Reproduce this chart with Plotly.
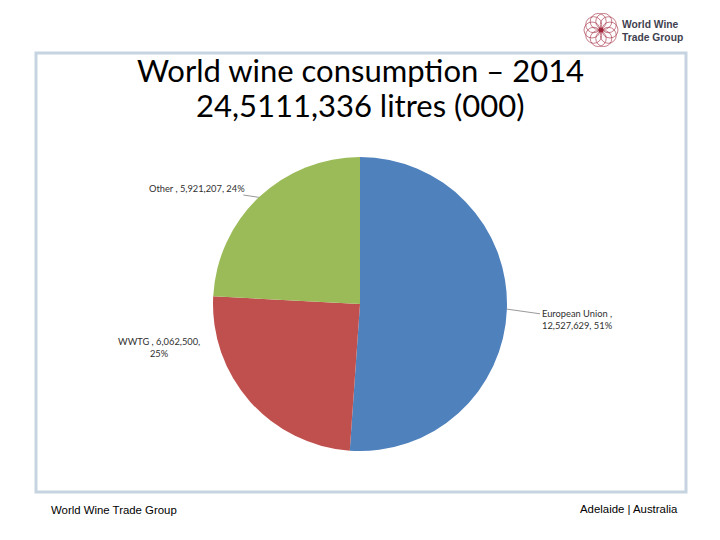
import math

import plotly.graph_objects as go

# data
regions = ["European Union", "WWTG", "Other"]
volumes = [12527629, 6062500, 5921207]
colors = ["#4f81bd", "#c0504d", "#9bbb59"]
title_lines = ["World wine consumption \u2013 2014", "24,5111,336 litres (000)"]

# page body has an 8px margin, so the figure is drawn 8px in from the window corner
PAD = 8
W, H = 720 - PAD, 540 - PAD


def px_x(x):
    return (x - PAD) / W


def px_y(y):
    return 1 - (y - PAD) / H


# pie geometry (window pixels)
cx, cy, r = 360, 304, 147
dom_x = [px_x(cx - r), px_x(cx + r)]
dom_y = [px_y(cy + r), px_y(cy - r)]

total = sum(volumes)
pcts = [round(v / total * 100) for v in volumes]

fig = go.Figure(
    go.Pie(
        labels=regions,
        values=volumes,
        sort=False,
        direction="clockwise",
        rotation=0,
        marker=dict(colors=colors, line=dict(width=0)),
        textinfo="none",
        hoverinfo="label+value+percent",
        domain=dict(x=dom_x, y=dom_y),
        showlegend=False,
    )
)


def edge_point(idx):
    """Window pixel coords of the outer edge at the middle of slice idx."""
    start = sum(volumes[:idx]) / total
    mid = (start + volumes[idx] / total / 2) * 2 * math.pi
    return cx + r * math.sin(mid), cy - r * math.cos(mid)


label_font = dict(family="Lato, Open Sans, sans-serif", size=9.3, color="#303030")
annotations = []

# European Union label, right side with leader line
epx, epy = edge_point(0)
annotations.append(dict(
    x=px_x(epx), y=px_y(epy), xref="paper", yref="paper",
    text=f"{regions[0]} ,<br>{volumes[0]:,}, {pcts[0]}%",
    align="left", font=label_font,
    showarrow=True, arrowhead=0, arrowwidth=0.8, arrowcolor="#7f7f7f",
    ax=577 - epx, ay=319 - epy,
))
# WWTG label, no leader line
annotations.append(dict(
    x=px_x(159), y=px_y(347), xref="paper", yref="paper",
    text=f"{regions[1]} , {volumes[1]:,},<br>{pcts[1]}%",
    align="center", xanchor="center", yanchor="middle",
    font=label_font, showarrow=False,
))
# Other label with leader line
opx, opy = edge_point(2)
annotations.append(dict(
    x=px_x(opx), y=px_y(opy), xref="paper", yref="paper",
    text=f"{regions[2]} , {volumes[2]:,}, {pcts[2]}%",
    font=label_font,
    showarrow=True, arrowhead=0, arrowwidth=0.8, arrowcolor="#7f7f7f",
    ax=197 - opx, ay=188 - opy,
))

# slide title
for text, ty in zip(title_lines, [70, 105]):
    annotations.append(dict(
        x=px_x(360), y=px_y(ty), xref="paper", yref="paper",
        text=text, showarrow=False, xanchor="center", yanchor="middle",
        font=dict(family="Lato, Open Sans, sans-serif", size=31, color="#000000"),
    ))

# footer
footer_font = dict(family="Liberation Sans, Arial, sans-serif", size=11.4, color="#000000")
annotations.append(dict(
    x=px_x(49), y=px_y(510), xref="paper", yref="paper", text="World Wine Trade Group",
    showarrow=False, xanchor="left", yanchor="middle", font=footer_font,
))
annotations.append(dict(
    x=px_x(680), y=px_y(509), xref="paper", yref="paper", text="Adelaide | Australia",
    showarrow=False, xanchor="right", yanchor="middle", font=footer_font,
))

# logo text
logo_font = dict(family="Liberation Sans, Arial, sans-serif", size=10.3, color="#3f3f4f")
for text, ty in zip(["<b>World Wine</b>", "<b>Trade Group</b>"], [25, 37]):
    annotations.append(dict(
        x=px_x(620), y=px_y(ty), xref="paper", yref="paper", text=text,
        showarrow=False, xanchor="left", yanchor="middle", font=logo_font,
    ))

shapes = []
# slide frame
shapes.append(dict(
    type="rect", xref="paper", yref="paper",
    x0=px_x(36), x1=px_x(686), y0=px_y(492), y1=px_y(53),
    line=dict(color="#c6d3e0", width=3), layer="below",
))
# logo rosette
lx, ly = 601, 30
for k in range(10):
    a = k * 2 * math.pi / 10
    px = lx + 9 * math.cos(a)
    py = ly + 9 * math.sin(a)
    shapes.append(dict(
        type="circle", xref="paper", yref="paper",
        x0=px_x(px - 8), x1=px_x(px + 8), y0=px_y(py + 8), y1=px_y(py - 8),
        line=dict(color="#a0283c", width=0.6),
    ))
shapes.append(dict(
    type="circle", xref="paper", yref="paper",
    x0=px_x(lx - 2.5), x1=px_x(lx + 2.5), y0=px_y(ly + 2.5), y1=px_y(ly - 2.5),
    line=dict(width=0), fillcolor="#a0283c",
))

fig.update_layout(
    width=W, height=H,
    margin=dict(l=0, r=0, t=0, b=0),
    paper_bgcolor="#ffffff",
    plot_bgcolor="#ffffff",
    annotations=annotations,
    shapes=shapes,
)

fig.write_html("out.html")
